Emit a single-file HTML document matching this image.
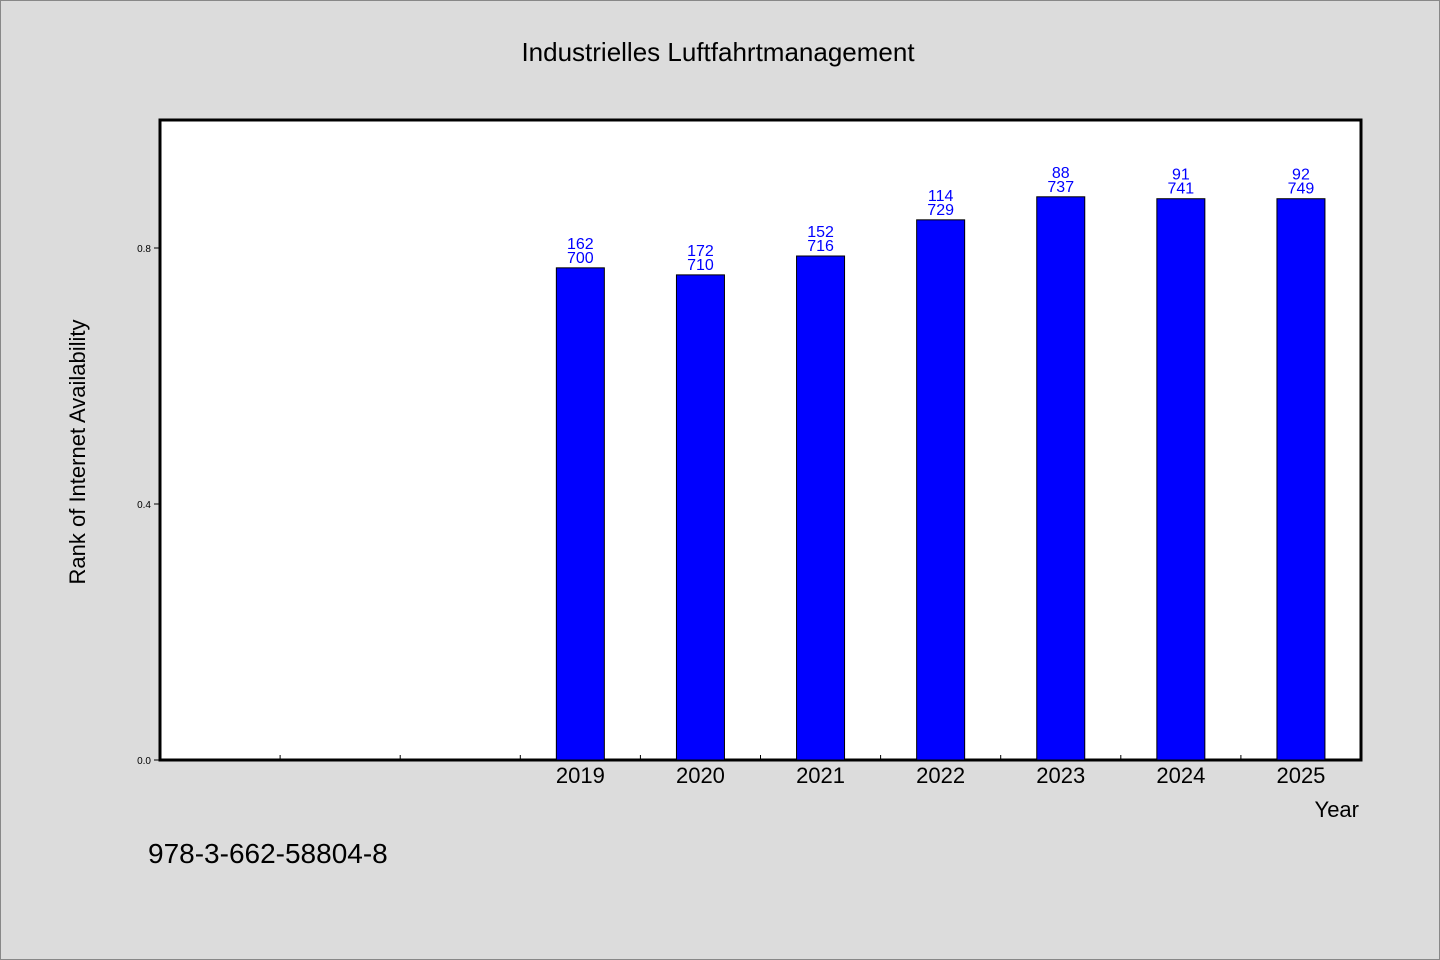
<!DOCTYPE html>
<html><head><meta charset="utf-8"><style>
body{margin:0;background:#dcdcdc;}
svg{display:block;font-family:"WenQuanYi Zen Hei","Liberation Sans",sans-serif;}
</style></head><body>
<svg id="chart" width="1440" height="960" xmlns="http://www.w3.org/2000/svg">
<rect x="0.5" y="0.5" width="1439" height="959" fill="#dcdcdc" stroke="#888"/>
<text x="718" y="61" font-size="26" text-anchor="middle">Industrielles Luftfahrtmanagement</text>
<rect x="160" y="120" width="1201" height="640" fill="#fff" stroke="#000" stroke-width="3"/>
<g id="ticks"></g>
<g id="bars"></g>
<text transform="translate(85,452) rotate(-90)" font-size="22" text-anchor="middle">Rank of Internet Availability</text>
<text x="1359" y="817" font-size="22" text-anchor="end">Year</text>
<text x="148" y="863" font-size="28">978-3-662-58804-8</text>
</svg>
<script>
const categories=["","","","2019","2020","2021","2022","2023","2024","2025"];
const values=[null,null,null,0.769,0.758,0.7875,0.844,0.880,0.877,0.877];
const labelTop=["","","","162","172","152","114","88","91","92"];
const labelBottom=["","","","700","710","716","729","737","741","749"];
const yTicks=[0.0,0.4,0.8];
const yTickLabels=["0.0","0.4","0.8"];
const NS="http://www.w3.org/2000/svg";
const x0=160,slot=120.1,yb=760,ph=640;
const xs=i=>x0+slot*i+slot/2;
const ys=v=>yb-v*ph;
function mk(t,a,p){const e=document.createElementNS(NS,t);for(const k in a)e.setAttribute(k,a[k]);p.appendChild(e);return e;}
const tg=document.getElementById('ticks'),bg=document.getElementById('bars');
yTicks.forEach((v,i)=>{
 const l=mk('line',{x1:154,x2:160,y1:ys(v),y2:ys(v),stroke:'#000'},tg);
 
 
 const t=mk('text',{x:151,y:ys(v)+4,'font-size':10,'text-anchor':'end'},tg);t.textContent=yTickLabels[i];
 
 
});
for(let i=1;i<categories.length;i++){
 const x=x0+slot*i;
 const l=mk('line',{x1:x,x2:x,y1:yb-5,y2:yb,stroke:'#000'},tg);
 
 
}
categories.forEach((c,i)=>{
 if(c){const t=mk('text',{x:xs(i),y:783,'font-size':22,'text-anchor':'middle'},tg);t.textContent=c;
 
 }
 if(values[i]==null)return;
 const y=ys(values[i]);
 const r=mk('rect',{x:xs(i)-24,y:y,width:48,height:yb-y,fill:'#0000ff',stroke:'#000','stroke-width':1},bg);
 
 
 const t1=mk('text',{x:xs(i),y:y-19,'font-size':16,'text-anchor':'middle',fill:'#0000ff'},bg);t1.textContent=labelTop[i];
 
 
 const t2=mk('text',{x:xs(i),y:y-5,'font-size':16,'text-anchor':'middle',fill:'#0000ff'},bg);t2.textContent=labelBottom[i];
 
 
});
</script>
</body></html>
